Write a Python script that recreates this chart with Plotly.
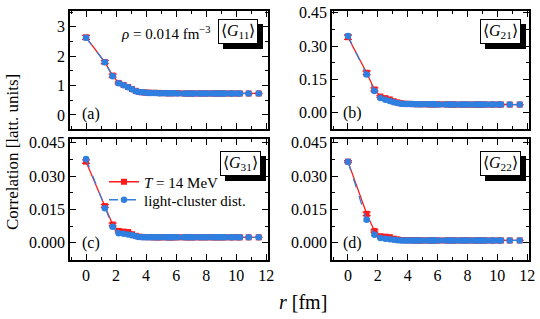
import plotly.graph_objects as go
from plotly.subplots import make_subplots

# ---------------- data ----------------
r = [0.00, 1.25, 1.77, 2.17, 2.50, 2.80, 3.06, 3.31, 3.54, 3.75,
     3.95, 4.15, 4.33, 4.51, 4.68, 4.84, 5.00, 5.30, 5.45, 5.59,
     5.73, 5.86, 6.12, 6.50, 6.73, 6.85, 7.07, 7.18, 7.50, 7.70,
     7.91, 8.10, 8.39, 8.57, 8.75, 8.92, 9.10, 9.27, 9.60, 9.76,
     10.08, 10.25, 10.83, 11.50]

g11_T = [2.64, 1.80, 1.34, 1.09, 1.02, 0.95, 0.88, 0.82, 0.78, 0.77,
         0.76, 0.76, 0.75, 0.75, 0.75, 0.75, 0.74, 0.74, 0.74, 0.74,
         0.74, 0.74, 0.74, 0.73, 0.73, 0.73, 0.73, 0.73, 0.73, 0.73,
         0.73, 0.73, 0.73, 0.73, 0.73, 0.73, 0.73, 0.73, 0.73, 0.73,
         0.73, 0.73, 0.73, 0.73]
g11_L = [2.63, 1.79, 1.32, 1.08, 1.01, 0.94, 0.87, 0.81, 0.78, 0.77,
         0.76, 0.75, 0.75, 0.75, 0.75, 0.74, 0.74, 0.74, 0.74, 0.74,
         0.74, 0.74, 0.73, 0.73, 0.73, 0.73, 0.73, 0.73, 0.73, 0.73,
         0.73, 0.73, 0.73, 0.73, 0.73, 0.73, 0.73, 0.73, 0.73, 0.73,
         0.73, 0.73, 0.73, 0.73]
g11_err = [0.07, 0.05, 0.05, 0.03, 0.02, 0.02, 0.01, 0.01, 0.01, 0.01] + [0.0] * 34

g21_T = [0.340, 0.180, 0.105, 0.073, 0.066, 0.060, 0.052, 0.047, 0.043, 0.041,
         0.040, 0.040, 0.039, 0.039, 0.039, 0.039, 0.038, 0.038, 0.038, 0.038,
         0.038, 0.038, 0.038, 0.038, 0.038, 0.037, 0.037, 0.037, 0.037, 0.037,
         0.037, 0.037, 0.037, 0.037, 0.037, 0.037, 0.037, 0.037, 0.037, 0.037,
         0.037, 0.037, 0.037, 0.037]
g21_L = [0.346, 0.172, 0.098, 0.066, 0.059, 0.053, 0.047, 0.044, 0.041, 0.040,
         0.039, 0.039, 0.039, 0.038, 0.038, 0.038, 0.038, 0.038, 0.038, 0.038,
         0.038, 0.037, 0.037, 0.037, 0.037, 0.037, 0.037, 0.037, 0.037, 0.037,
         0.037, 0.037, 0.037, 0.037, 0.037, 0.037, 0.037, 0.037, 0.037, 0.037,
         0.037, 0.037, 0.037, 0.037]
g21_err = [0.010, 0.008, 0.007, 0.004, 0.003, 0.003, 0.002, 0.001, 0.001, 0.001] + [0.0] * 34

g31_T = [0.0365, 0.0165, 0.0082, 0.0053, 0.0050, 0.0048, 0.0038, 0.0031, 0.0027, 0.0026,
         0.0025, 0.0025, 0.0025, 0.0024, 0.0024, 0.0024, 0.0024, 0.0024, 0.0024, 0.0024,
         0.0024, 0.0024, 0.0024, 0.0024, 0.0024, 0.0024, 0.0024, 0.0024, 0.0024, 0.0024,
         0.0024, 0.0024, 0.0024, 0.0024, 0.0024, 0.0024, 0.0024, 0.0024, 0.0024, 0.0024,
         0.0024, 0.0024, 0.0024, 0.0024]
g31_L = [0.0377, 0.0155, 0.0072, 0.0043, 0.0040, 0.0037, 0.0033, 0.0029, 0.0026, 0.0025,
         0.0025, 0.0024, 0.0024, 0.0024, 0.0024, 0.0024, 0.0024, 0.0024, 0.0024, 0.0024,
         0.0024, 0.0024, 0.0024, 0.0024, 0.0024, 0.0024, 0.0024, 0.0024, 0.0024, 0.0024,
         0.0024, 0.0024, 0.0024, 0.0024, 0.0024, 0.0024, 0.0024, 0.0024, 0.0024, 0.0024,
         0.0024, 0.0024, 0.0024, 0.0024]
g31_err = [0.0008, 0.0006, 0.0006, 0.0004, 0.0003, 0.0003, 0.0002, 0.0001, 0.0001, 0.0001] + [0.0] * 34

g22_T = [0.0365, 0.0130, 0.0053, 0.0029, 0.0027, 0.0025, 0.0018, 0.0015, 0.0012, 0.0011,
         0.0011, 0.0011, 0.0010, 0.0010, 0.0010, 0.0010, 0.0010, 0.0010, 0.0010, 0.0010,
         0.0010, 0.0010, 0.0010, 0.0010, 0.0010, 0.0010, 0.0010, 0.0010, 0.0010, 0.0010,
         0.0010, 0.0010, 0.0010, 0.0010, 0.0010, 0.0010, 0.0010, 0.0010, 0.0010, 0.0010,
         0.0010, 0.0010, 0.0010, 0.0010]
g22_L = [0.0365, 0.0103, 0.0036, 0.0021, 0.0018, 0.0016, 0.0013, 0.0011, 0.0010, 0.0010,
         0.0010, 0.0010, 0.0010, 0.0010, 0.0010, 0.0010, 0.0010, 0.0010, 0.0010, 0.0010,
         0.0010, 0.0010, 0.0010, 0.0010, 0.0010, 0.0010, 0.0010, 0.0010, 0.0010, 0.0010,
         0.0010, 0.0010, 0.0010, 0.0010, 0.0010, 0.0010, 0.0010, 0.0010, 0.0010, 0.0010,
         0.0010, 0.0010, 0.0010, 0.0010]
g22_err = [0.0004, 0.0008, 0.0005, 0.0003, 0.0003, 0.0002, 0.0001, 0.0001, 0.0001, 0.0001] + [0.0] * 34

panels = [
    ("⟨<i>G</i><sub>11</sub>⟩", "(a)", g11_T, g11_L, g11_err),
    ("⟨<i>G</i><sub>21</sub>⟩", "(b)", g21_T, g21_L, g21_err),
    ("⟨<i>G</i><sub>31</sub>⟩", "(c)", g31_T, g31_L, g31_err),
    ("⟨<i>G</i><sub>22</sub>⟩", "(d)", g22_T, g22_L, g22_err),
]
legend_T = "<i>T</i> = 14 MeV"
legend_L = "light-cluster dist."

# ---------------- style ----------------
FONT = "Liberation Serif"
RED = "#ff1a1a"
BLUE = "#2f7fe0"
W, H = 540, 319

fig = make_subplots(rows=2, cols=2)

cells = [(1, 1), (1, 2), (2, 1), (2, 2)]
for i, (lab, letter, yT, yL, err) in enumerate(panels):
    row, col = cells[i]
    show = (i == 2)
    fig.add_trace(go.Scatter(
        x=r, y=yT, mode="lines+markers", name=legend_T, showlegend=show, legend="legend",
        line=dict(color=RED, width=1.3),
        marker=dict(symbol="square", size=6, color=RED),
        error_y=dict(type="data", array=err, color=RED, thickness=1.3, width=4),
    ), row=row, col=col)
    fig.add_trace(go.Scatter(
        x=r, y=yL, mode="lines+markers", name=legend_L, showlegend=show, legend="legend2",
        line=dict(color=BLUE, width=1.3, dash="dash"),
        marker=dict(symbol="circle", size=6.5, color=BLUE),
        error_y=dict(type="data", array=[e * 0.8 for e in err], color=BLUE, thickness=1.3, width=3),
    ), row=row, col=col)

# domains (pixel based)
def xd(a, b):
    return [a / W, b / W]

def yd(top, bottom):
    return [1 - bottom / H, 1 - top / H]

xdoms = [xd(70, 268), xd(332, 529), xd(70, 268), xd(332, 529)]
ydoms = [yd(11, 129), yd(11, 129), yd(139, 260), yd(139, 260)]
yranges = [[-0.48, 3.54], [-0.073, 0.458], [-0.0078, 0.0467], [-0.0078, 0.0467]]
ydticks = [1, 0.15, 0.015, 0.015]
yfmts = ["d", ".2f", ".3f", ".3f"]

tickfont = dict(family=FONT, size=16, color="black")
for i in range(4):
    xa = "xaxis" if i == 0 else f"xaxis{i+1}"
    ya = "yaxis" if i == 0 else f"yaxis{i+1}"
    fig.layout[xa].update(
        domain=xdoms[i], range=[-1.07, 12.12], tick0=0, dtick=2, automargin=False,
        ticks="inside", ticklen=6, tickwidth=1.3, tickcolor="black",
        mirror="ticks", showline=True, linewidth=1.6, linecolor="black",
        showgrid=False, zeroline=False, showticklabels=(i >= 2),
        tickfont=tickfont,
        minor=dict(ticks="inside", dtick=1, ticklen=3, tickwidth=1.2, tickcolor="black", showgrid=False),
    )
    fig.layout[ya].update(
        domain=ydoms[i], range=yranges[i], tick0=0, dtick=ydticks[i], automargin=False,
        tickformat=yfmts[i],
        ticks="inside", ticklen=6, tickwidth=1.3, tickcolor="black",
        mirror="ticks", showline=True, linewidth=1.6, linecolor="black",
        showgrid=False, zeroline=False, tickfont=tickfont,
        minor=dict(ticks="inside", dtick=ydticks[i] / 2, ticklen=3, tickwidth=1.2, tickcolor="black", showgrid=False),
    )

annotations = []

def px(xp, yp):
    return xp / W, 1 - yp / H

box_centers = [(238, 31.5), (500, 31.5), (240, 163), (500, 163)]
letter_pos = [(91, 114), (352, 113), (91, 243), (352, 243)]
for i, (lab, letter, *_rest) in enumerate(panels):
    bx, by = px(*box_centers[i])
    annotations.append(dict(
        text=lab, x=bx, y=by, xref="paper", yref="paper", xanchor="center", yanchor="middle",
        showarrow=False, font=dict(family=FONT, size=16, color="black"),
        bgcolor="black", bordercolor="black", borderwidth=1, borderpad=2,
        xshift=5, yshift=-5))
    annotations.append(dict(
        text=lab, x=bx, y=by, xref="paper", yref="paper", xanchor="center", yanchor="middle",
        showarrow=False, font=dict(family=FONT, size=16, color="black"),
        bgcolor="white", bordercolor="black", borderwidth=1, borderpad=2))
    lx, ly = px(*letter_pos[i])
    annotations.append(dict(
        text=letter, x=lx, y=ly, xref="paper", yref="paper", xanchor="center", yanchor="middle",
        showarrow=False, font=dict(family=FONT, size=16, color="black")))

rx, ry = px(213, 33)
annotations.append(dict(
    text="<i>ρ</i> = 0.014 fm<sup>−3</sup>", x=rx, y=ry, xref="paper", yref="paper",
    xanchor="right", yanchor="middle", showarrow=False,
    font=dict(family=FONT, size=15, color="black")))

tx, ty = px(303, 302)
annotations.append(dict(
    text="<i>r</i> [fm]", x=tx, y=ty, xref="paper", yref="paper",
    xanchor="center", yanchor="middle", showarrow=False,
    font=dict(family=FONT, size=20, color="black")))

yx, yy = px(12, 152)
annotations.append(dict(
    text="Correlation [latt. units]", x=yx, y=yy, xref="paper", yref="paper",
    xanchor="center", yanchor="middle", showarrow=False, textangle=-90,
    font=dict(family=FONT, size=17, color="black")))

lfont = dict(family=FONT, size=15, color="black")
l1x, l1y = px(104, 182)
l2x, l2y = px(104, 200)
fig.update_layout(
    width=W, height=H, margin=dict(l=0, r=0, t=0, b=0, autoexpand=False),
    paper_bgcolor="white", plot_bgcolor="white",
    annotations=annotations,
    legend=dict(x=l1x, y=l1y, xanchor="left", yanchor="middle",
                bgcolor="rgba(0,0,0,0)", font=lfont, itemwidth=30),
    legend2=dict(x=l2x, y=l2y, xanchor="left", yanchor="middle",
                 bgcolor="rgba(0,0,0,0)", font=lfont, itemwidth=30),
)

fig.write_html("out.html", config={"displayModeBar": False},
               post_script="document.body.style.margin='0px';")
